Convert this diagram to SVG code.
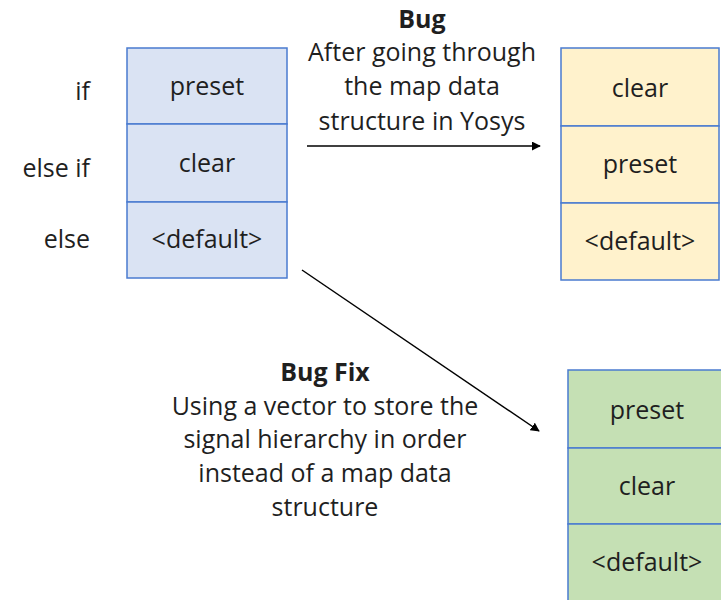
<svg xmlns="http://www.w3.org/2000/svg" width="721" height="600" viewBox="0 0 721 600">
  <style>
    .t { font-family: "Open Sans", "Noto Sans", sans-serif; font-size: 25px; fill: #1f1f1f; }
    .c { text-anchor: middle; }
    .r { text-anchor: end; }
    .b { font-weight: bold; }
    .cell { stroke: #4a7bd0; stroke-width: 1.5; }
    .blue { fill: #dae3f3; }
    .yellow { fill: #fff2cc; }
    .green { fill: #c5e0b4; }
    .conn { stroke: #000; stroke-width: 1.5; fill: none; marker-end: url(#arrow); }
  </style>
  <defs>
    <marker id="arrow" viewBox="0 0 10 10" refX="9" refY="5" markerWidth="9" markerHeight="9" orient="auto" markerUnits="userSpaceOnUse">
      <path d="M0,0 L10,5 L0,10 z" fill="#000"/>
    </marker>
  </defs>
  <rect width="721" height="600" fill="#fff"/>

  <!-- condition labels -->
  <g id="conditions">
    <text class="t r" x="90" y="100">if</text>
    <text class="t r" x="90" y="177">else if</text>
    <text class="t r" x="90" y="248">else</text>
  </g>

  <!-- original priority list -->
  <g id="original">
    <rect class="cell blue" x="127" y="48" width="160" height="76"/>
    <rect class="cell blue" x="127" y="124" width="160" height="78"/>
    <rect class="cell blue" x="127" y="202" width="160" height="76"/>
    <text class="t c" x="207" y="95">preset</text>
    <text class="t c" x="207" y="172">clear</text>
    <text class="t c" x="207" y="248">&lt;default&gt;</text>
  </g>

  <!-- order after map -->
  <g id="buggy">
    <rect class="cell yellow" x="561" y="48" width="158" height="78"/>
    <rect class="cell yellow" x="561" y="126" width="158" height="77"/>
    <rect class="cell yellow" x="561" y="203" width="158" height="77"/>
    <text class="t c" x="640" y="97">clear</text>
    <text class="t c" x="640" y="173">preset</text>
    <text class="t c" x="640" y="250">&lt;default&gt;</text>
  </g>

  <!-- order after fix -->
  <g id="fixed">
    <rect class="cell green" x="568" y="370" width="160" height="78"/>
    <rect class="cell green" x="568" y="448" width="160" height="76"/>
    <rect class="cell green" x="568" y="524" width="160" height="80"/>
    <text class="t c" x="647" y="419">preset</text>
    <text class="t c" x="647" y="495">clear</text>
    <text class="t c" x="647" y="571">&lt;default&gt;</text>
  </g>

  <g id="connectors">
    <line class="conn" x1="307" y1="146" x2="540" y2="146"/>
    <line class="conn" x1="302" y1="270" x2="539" y2="431"/>
  </g>

  <g id="bug-label">
    <text class="t c b" x="422" y="28">Bug</text>
    <text class="t c" x="422" y="61">After going through</text>
    <text class="t c" x="422" y="95">the map data</text>
    <text class="t c" x="422" y="130">structure in Yosys</text>
  </g>

  <g id="fix-label">
    <text class="t c b" x="325" y="381">Bug Fix</text>
    <text class="t c" x="325" y="415">Using a vector to store the</text>
    <text class="t c" x="325" y="448">signal hierarchy in order</text>
    <text class="t c" x="325" y="482">instead of a map data</text>
    <text class="t c" x="325" y="516">structure</text>
  </g>
</svg>
